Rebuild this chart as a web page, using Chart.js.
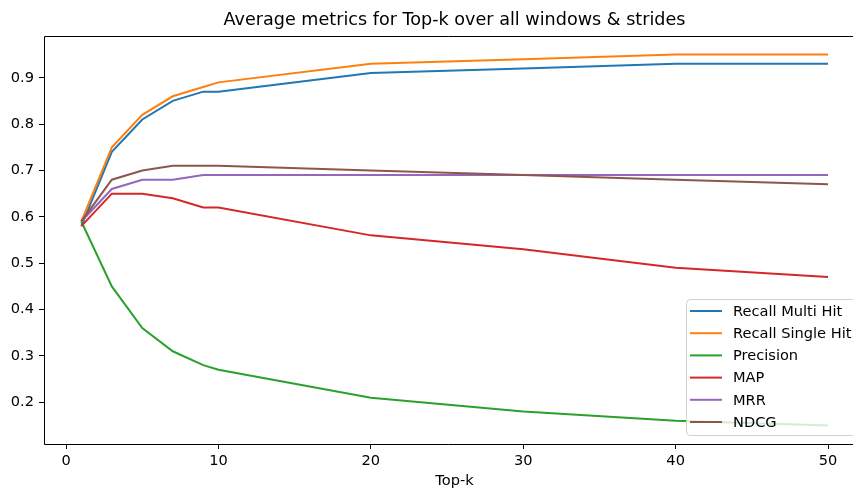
<!DOCTYPE html>
<html>
<head>
<meta charset="utf-8">
<script src="https://cdn.jsdelivr.net/npm/chart.js@4/dist/chart.umd.min.js"></script>
<style>
  html, body { margin: 0; padding: 0; overflow: hidden; background: #fff; }
  #wrap { width: 853px; height: 489px; }
</style>
</head>
<body>
<div id="wrap"><canvas id="c" width="853" height="489"></canvas></div>
<script>
const topK = [1, 3, 5, 7, 9, 10, 20, 30, 40, 50];
const recallMultiHit  = [0.58, 0.74, 0.81, 0.85, 0.87, 0.87, 0.91, 0.92, 0.93, 0.93];
const recallSingleHit = [0.59, 0.75, 0.82, 0.86, 0.88, 0.89, 0.93, 0.94, 0.95, 0.95];
const precision       = [0.59, 0.45, 0.36, 0.31, 0.28, 0.27, 0.21, 0.18, 0.16, 0.15];
const mapScore        = [0.58, 0.65, 0.65, 0.64, 0.62, 0.62, 0.56, 0.53, 0.49, 0.47];
const mrr             = [0.59, 0.66, 0.68, 0.68, 0.69, 0.69, 0.69, 0.69, 0.69, 0.69];
const ndcg            = [0.59, 0.68, 0.70, 0.71, 0.71, 0.71, 0.70, 0.69, 0.68, 0.67];

const seriesNames = ['Recall Multi Hit', 'Recall Single Hit', 'Precision', 'MAP', 'MRR', 'NDCG'];
const seriesData = [recallMultiHit, recallSingleHit, precision, mapScore, mrr, ndcg];
const colors = ['#1f77b4', '#ff7f0e', '#2ca02c', '#d62728', '#9467bd', '#8c564b'];

const xTicks = [0, 10, 20, 30, 40, 50];
const yTicks = [0.2, 0.3, 0.4, 0.5, 0.6, 0.7, 0.8, 0.9];

const titleText = 'Average metrics for Top-k over all windows & strides';
const xLabel = 'Top-k';
const FONT = '"DejaVu Sans", sans-serif';
const SMALL = 14.6;
const BIG = 17.6;

const datasets = seriesNames.map((name, i) => ({
  label: name,
  data: topK.map((k, j) => ({ x: k, y: seriesData[i][j] })),
  borderColor: colors[i],
  backgroundColor: colors[i],
  borderWidth: 2,
  pointRadius: 0,
  tension: 0,
  fill: false,
  order: seriesNames.length - i
}));

const framePlugin = {
  id: 'frame',
  afterDraw(chart) {
    const ctx = chart.ctx;
    const a = chart.chartArea;
    const W = chart.width;
    const L = Math.round(a.left) + 0.5, T = Math.round(a.top) + 0.5, B = Math.round(a.bottom) + 0.5;
    ctx.save();
    // frame (right spine lies beyond the visible area)
    ctx.strokeStyle = '#000';
    ctx.lineWidth = 1;
    ctx.beginPath();
    ctx.moveTo(W, T);
    ctx.lineTo(L, T);
    ctx.lineTo(L, B);
    ctx.lineTo(W, B);
    ctx.stroke();
    // title (centered on full axes width, which extends past the canvas)
    const axesCenter = 454.5;
    ctx.fillStyle = '#000';
    ctx.font = BIG + 'px ' + FONT;
    ctx.textAlign = 'center';
    ctx.textBaseline = 'middle';
    ctx.fillText(titleText, axesCenter, 20);
    // x label
    ctx.font = SMALL + 'px ' + FONT;
    ctx.fillText(xLabel, axesCenter, 481);
    // legend box (right side cut off by the canvas edge)
    const bx = 686.5, by = 299.5, bb = 435.5, r = 4;
    ctx.beginPath();
    ctx.moveTo(W, by);
    ctx.lineTo(bx + r, by);
    ctx.quadraticCurveTo(bx, by, bx, by + r);
    ctx.lineTo(bx, bb - r);
    ctx.quadraticCurveTo(bx, bb, bx + r, bb);
    ctx.lineTo(W, bb);
    ctx.lineTo(W, by);
    ctx.closePath();
    ctx.fillStyle = 'rgba(255,255,255,0.8)';
    ctx.fill();
    ctx.beginPath();
    ctx.moveTo(W, by);
    ctx.lineTo(bx + r, by);
    ctx.quadraticCurveTo(bx, by, bx, by + r);
    ctx.lineTo(bx, bb - r);
    ctx.quadraticCurveTo(bx, bb, bx + r, bb);
    ctx.lineTo(W, bb);
    ctx.strokeStyle = '#d0d0d0';
    ctx.lineWidth = 1;
    ctx.stroke();
    ctx.textAlign = 'left';
    ctx.textBaseline = 'middle';
    chart.data.datasets.forEach((ds, i) => {
      const y = 311 + i * 22.2;
      ctx.strokeStyle = ds.borderColor;
      ctx.lineWidth = 2;
      ctx.beginPath();
      ctx.moveTo(690, y);
      ctx.lineTo(722, y);
      ctx.stroke();
      ctx.fillStyle = '#000';
      ctx.font = SMALL + 'px ' + FONT;
      ctx.fillText(ds.label, 733, y + 1);
    });
    ctx.restore();
  }
};

new Chart(document.getElementById('c'), {
  type: 'line',
  data: { datasets },
  options: {
    responsive: false,
    animation: false,
    layout: { padding: { top: 36, right: 0, left: 0, bottom: 0 } },
    plugins: { legend: { display: false }, title: { display: false }, tooltip: { enabled: false } },
    scales: {
      x: {
        type: 'linear',
        min: -1.45,
        max: 51.64,
        afterBuildTicks: s => { s.ticks = xTicks.map(v => ({ value: v })); },
        afterFit: s => { s.height = 45; s.paddingRight = 0; s.paddingLeft = 0; },
        grid: { drawOnChartArea: false, drawTicks: true, tickLength: 5, tickColor: '#000' },
        border: { display: false },
        ticks: { color: '#000', font: { family: FONT, size: SMALL }, padding: 3, maxRotation: 0 }
      },
      y: {
        type: 'linear',
        min: 0.11,
        max: 0.99,
        afterBuildTicks: s => { s.ticks = yTicks.map(v => ({ value: v })); },
        afterFit: s => { s.width = 44; s.paddingTop = 0; s.paddingBottom = 0; },
        grid: { drawOnChartArea: false, drawTicks: true, tickLength: 5, tickColor: '#000' },
        border: { display: false },
        ticks: { color: '#000', font: { family: FONT, size: SMALL }, padding: 5,
                 callback: v => v.toFixed(1) }
      }
    }
  },
  plugins: [framePlugin]
});
</script>
</body>
</html>
